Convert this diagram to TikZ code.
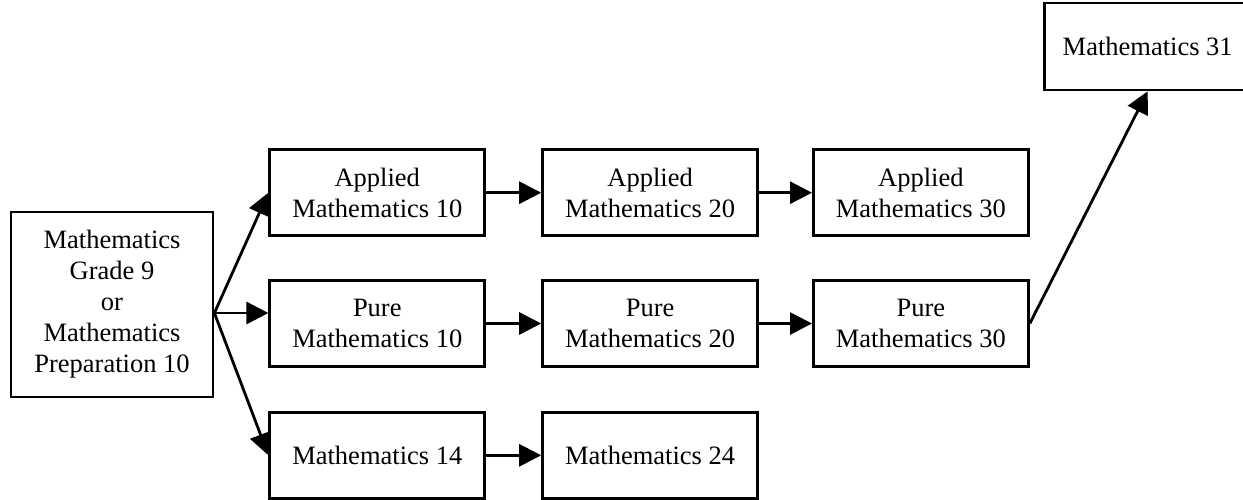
\documentclass[tikz,border=0pt]{standalone}
\usepackage{fontspec}
\setmainfont{Liberation Serif}
\usetikzlibrary{positioning,arrows.meta}

\begin{document}
\begin{tikzpicture}[
  x=1pt, y=1pt, font=\fontsize{26.5pt}{31pt}\selectfont,
  >={Triangle[length=22pt,width=22pt]},
  course/.style={draw, line width=2.8pt, minimum width=215pt,
                 minimum height=86pt, inner sep=2pt, align=center},
  link/.style={->, line width=2.8pt}]
\useasboundingbox (0,0) rectangle (1243,-499);

\node[course, minimum width=202pt, minimum height=185pt] (start) at (112,-304.5)
  {Mathematics\\Grade 9\\or\\Mathematics\\Preparation 10};

\node[course, right=54pt of start, yshift=-19pt] (pu10) {Pure\\Mathematics 10};
\node[course, above=42pt of pu10] (ap10) {Applied\\Mathematics 10};
\node[course, below=43pt of pu10] (m14) {Mathematics 14};

\node[course, right=55pt of ap10] (ap20) {Applied\\Mathematics 20};
\node[course, right=55pt of pu10] (pu20) {Pure\\Mathematics 20};
\node[course, right=55pt of m14] (m24) {Mathematics 24};

\node[course, right=53pt of ap20] (ap30) {Applied\\Mathematics 30};
\node[course, right=53pt of pu20] (pu30) {Pure\\Mathematics 30};

\node[course, above right=57pt and 13pt of ap30, minimum width=207pt,
      minimum height=87pt] (m31) {Mathematics 31};

% branches out of grade 9
\coordinate (fork) at ([yshift=-8.5pt]start.east);
\draw[link] (fork) -- (ap10.west);
\draw[link] (fork) -- (fork -| pu10.west);
\draw[link] (fork) -- (m14.west);
% sequences
\draw[link] (ap10) -- (ap20);
\draw[link] (ap20) -- (ap30);
\draw[link] (pu10) -- (pu20);
\draw[link] (pu20) -- (pu30);
\draw[link] (m14) -- (m24);
\draw[link] (pu30.east) -- (m31.south);
\end{tikzpicture}
\end{document}
